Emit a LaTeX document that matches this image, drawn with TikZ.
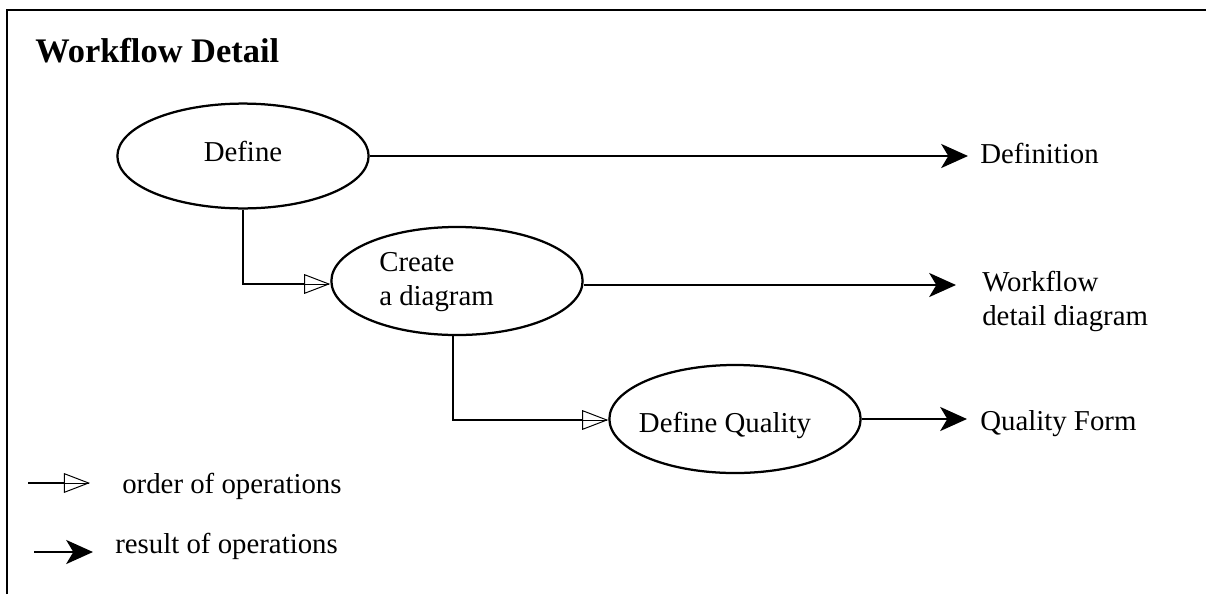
\documentclass[tikz,border=0pt]{standalone}
\usepackage{fontspec}
\setmainfont{Liberation Serif}
\usetikzlibrary{arrows.meta,shapes.geometric}
\begin{document}
\begin{tikzpicture}[x=0.025cm,y=-0.025cm,
  txt/.style={font=\fontsize{20.5}{23.5}\selectfont, inner sep=0pt},
  oval/.style={draw, ellipse, line width=1.6pt, inner sep=0pt, minimum width=6.28cm, minimum height=2.7cm, font=\fontsize{20.5}{23.5}\selectfont},
  result/.style={line width=2.1pt, -{Stealth[length=19pt,width=17pt,inset=5pt]}},
  orderline/.style={line width=2.1pt, shorten >=18pt},
  ordertip/.style={line width=0.7pt, -{Triangle[open,length=18.5pt,width=14pt]}}
]
\useasboundingbox (0,0) rectangle (1206,594);
% frame
\draw[line width=2.1pt] (7,594) -- (7,10) -- (1208,10);
\node[anchor=base west, inner sep=0pt, font=\fontsize{24.5}{28}\selectfont\bfseries] (title) at (35,62) {Workflow Detail};

% ellipses
\node[oval, minimum height=2.62cm] (def) at (243,156) {};
\node[txt, anchor=base] (deft) at (243,161) {Define};
\node[oval] (cre) at (457,281) {};
\node[txt, anchor=base west, align=left] (cret) at (379,305) {Create\\a diagram};
\node[oval] (qual) at (735,419) {};
\node[txt, anchor=base] (qualt) at (725,432) {Define Quality};

% outputs
\node[txt, anchor=base west] (o1) at (980,163) {Definition};
\node[txt, anchor=base west, align=left] (o2) at (982,325) {Workflow\\detail diagram};
\node[txt, anchor=base west] (o3) at (980,430) {Quality Form};
\coordinate (e1) at (968,156);
\coordinate (e2) at (956,285);
\coordinate (e3) at (967,419);

\draw[result] (def.east) -- (e1);
\draw[result] (cre.east |- e2) -- (e2);
\draw[result] (qual.east) -- (e3);

% order connectors
\draw[orderline] (def.south) -- (243,284) -- (cre.west |- 0,284);
\draw[ordertip] ([xshift=-1pt]cre.west |- 0,284) -- (cre.west |- 0,284);
\draw[orderline] (453,335) -- (453,420) -- (qual.west |- 0,420);
\draw[ordertip] ([xshift=-1pt]qual.west |- 0,420) -- (qual.west |- 0,420);

% legend
\coordinate (l1a) at (28,483);
\coordinate (l1b) at (90,483);
\draw[orderline] (l1a) -- (l1b);
\draw[ordertip] ([xshift=-1pt]l1b) -- (l1b);
\node[txt, anchor=base west] (leg1) at (122,493) {order of operations};
\coordinate (l2a) at (34,552);
\coordinate (l2b) at (93,552);
\draw[result] (l2a) -- (l2b);
\node[txt, anchor=base west] (leg2) at (115,553) {result of operations};
\end{tikzpicture}
\end{document}
